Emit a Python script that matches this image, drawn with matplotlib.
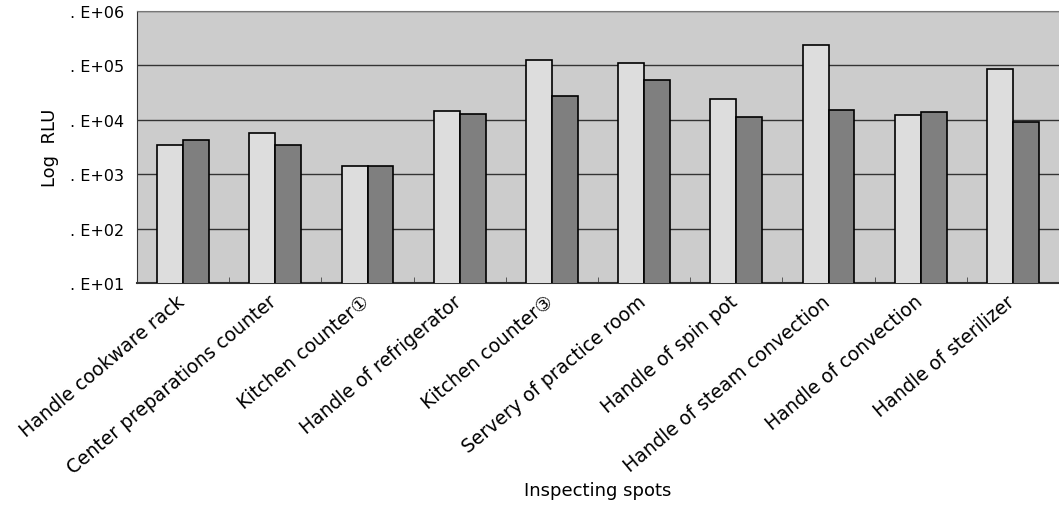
import numpy as np
import matplotlib.pyplot as plt
import matplotlib.transforms as mtransforms
from matplotlib.ticker import FixedLocator

plt.rcParams['font.family'] = ['DejaVu Sans', 'Noto Sans CJK JP']

spots = ['Handle cookware rack', 'Center preparations counter', 'Kitchen counter①',
         'Handle of refrigerator', 'Kitchen counter③', 'Servery of practice room',
         'Handle of spin pot', 'Handle of steam convection', 'Handle of convection',
         'Handle of sterilizer']
before = [3470, 5800, 1430, 14800, 124000, 109000, 24600, 234000, 12300, 85000]
after = [4170, 3400, 1420, 12900, 27600, 53000, 11400, 15200, 13900, 9100]
ytick_vals = [1e1, 1e2, 1e3, 1e4, 1e5, 1e6]
ytick_txt = ['. E+01', '. E+02', '. E+03', '. E+04', '. E+05', '. E+06']

fig = plt.figure(figsize=(10.59, 5.06), dpi=100)
ax = fig.add_axes([137/1059, 1 - 284/506, 922/1059, 272/506])

x = np.arange(len(spots))
w = 0.28
ax.bar(x - w/2, before, w, color='#dddddd', edgecolor='black', linewidth=1.2, zorder=3)
ax.bar(x + w/2, after, w, color='#7f7f7f', edgecolor='black', linewidth=1.2, zorder=3)

ax.set_yscale('log')
ax.set_ylim(10, 1e6)
ax.set_xlim(-0.5, len(spots) - 0.5)
ax.set_facecolor('#cccccc')
ax.yaxis.set_major_locator(FixedLocator(ytick_vals))
ax.yaxis.set_minor_locator(FixedLocator([]))
ax.set_yticklabels(ytick_txt, fontsize=11.5)
ax.grid(axis='y', color='#333333', linewidth=1, zorder=1)
ax.tick_params(axis='y', length=0, pad=9)

ax.set_xticks(x)
ax.set_xticklabels(spots, rotation=40, ha='right', rotation_mode='anchor', fontsize=13.5)
ax.tick_params(axis='x', which='major', length=0, pad=6)
ax.set_xticks(np.arange(0.5, len(spots) - 0.5), minor=True)
ax.tick_params(axis='x', which='minor', direction='in', length=4, color='#444444')
shift = mtransforms.ScaledTranslation(-0.07, 0, fig.dpi_scale_trans)
for lbl in ax.get_xticklabels():
    lbl.set_transform(lbl.get_transform() + shift)

ax.spines['right'].set_visible(False)
ax.spines['top'].set_color('#777777')
ax.spines['left'].set_color('#333333')
ax.spines['bottom'].set_color('#333333')
ax.spines['bottom'].set_linewidth(1.5)

ax.set_ylabel('Log  RLU', fontsize=13, labelpad=8)
fig.text(598/1059, 1 - 491/506, 'Inspecting spots', ha='center', va='center', fontsize=13)

fig.savefig('out.png', dpi=100)
